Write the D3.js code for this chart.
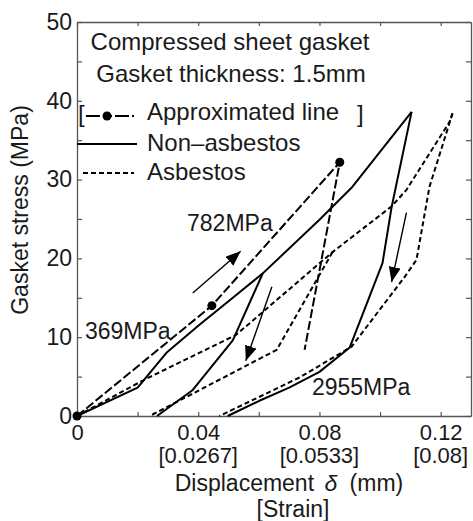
<!DOCTYPE html>
<html>
<head>
<meta charset="utf-8">
<script src="https://cdn.jsdelivr.net/npm/d3@7"></script>
<style>
  body { margin: 0; background: #fff; }
  text { font-family: "Liberation Sans", Arial, sans-serif; fill: #1a1a1a; }
</style>
</head>
<body>
<div id="chart"></div>
<script>
// tick values / labels
var xTicks = [0, 0.02, 0.04, 0.06, 0.08, 0.1, 0.12];
var xTickLabels = ["0", "", "0.04", "", "0.08", "", "0.12"];
var strainLabels = ["", "", "[0.0267]", "", "[0.0533]", "", "[0.08]"];
var yTicks = [0, 5, 10, 15, 20, 25, 30, 35, 40, 45, 50];
var yTickLabels = ["0", "", "10", "", "20", "", "30", "", "40", "", "50"];

// Non-asbestos (solid) : [displacement mm, stress MPa]
var nonAsbLoad = [[0, 0], [0.02, 3.6], [0.0297, 8.1], [0.0405, 11.6], [0.0504, 14.7], [0.0613, 18.1],
  [0.08, 24.9], [0.0909, 29.1], [0.1104, 38.6]];
var nonAsbUnload1 = [[0.0613, 18.1], [0.0514, 9.6], [0.0382, 3.3], [0.0264, 0]];
var nonAsbUnload2 = [[0.1104, 38.6], [0.1038, 26.5], [0.1008, 19.4], [0.09, 8.7], [0.08, 5.6],
  [0.07, 3.6], [0.06, 1.9], [0.0497, 0]];

// Asbestos (dashed)
var asbLoad = [[0, 0], [0.0217, 4.5], [0.0525, 10.3], [0.0843, 20.8], [0.1038, 26.6], [0.1087, 28.7],
  [0.1229, 37.3], [0.1239, 38.4]];
var asbUnload1 = [[0.0843, 20.8], [0.0659, 8.4], [0.0405, 3.3], [0.024, 0]];
var asbUnload2 = [[0.1239, 38.4], [0.1163, 29.1], [0.112, 19.8], [0.108, 17.6], [0.0906, 8.8],
  [0.0735, 4.9], [0.06, 2.4], [0.047, 0]];

// Approximated line
var approxLine = [[0, 0], [0.0445, 14.0], [0.0867, 32.2], [0.0751, 8.4]];
var approxDots = [[0, 0], [0.0445, 14.0], [0.0867, 32.2]];

// arrows [from, to]
var arrows = [
  [[0.0382, 15.6], [0.054, 20.9]],
  [[0.0643, 16.4], [0.0557, 7.0]],
  [[0.1087, 25.8], [0.1038, 17.0]]
];

// slope labels [text, x, y]
var slopeLabels = [["782MPa", 0.0363, 23.5], ["369MPa", 0.0026, 9.8], ["2955MPa", 0.0775, 2.65]];

var svgWidth = 473;
var svgHeight = 521;
var margin = { top: 22, right: 2, bottom: 105, left: 77 };
var width = svgWidth - margin.left - margin.right;
var height = svgHeight - margin.top - margin.bottom;

var svg = d3.select("#chart")
  .append("svg")
  .attr("width", svgWidth)
  .attr("height", svgHeight);

var chartGroup = svg.append("g")
  .attr("transform", `translate(${margin.left}, ${margin.top})`);

var xScale = d3.scaleLinear().domain([0, 0.13]).range([0, width]);
var yScale = d3.scaleLinear().domain([0, 50]).range([height, 0]);

// axes, ticks pointing in
var bottomAxis = d3.axisBottom(xScale).tickValues(xTicks).tickSizeInner(-4).tickSizeOuter(0)
  .tickPadding(8).tickFormat((d, i) => xTickLabels[i]);
var topAxis = d3.axisTop(xScale).tickValues(xTicks).tickSizeInner(-4).tickSizeOuter(0).tickFormat("");
var leftAxis = d3.axisLeft(yScale).tickValues(yTicks).tickSizeInner(-5).tickSizeOuter(0)
  .tickPadding(5).tickFormat((d, i) => yTickLabels[i]);
var rightAxis = d3.axisRight(yScale).tickValues(yTicks).tickSizeInner(-5).tickSizeOuter(0).tickFormat("");

var gx = chartGroup.append("g").attr("transform", `translate(0, ${height})`).call(bottomAxis);
chartGroup.append("g").call(topAxis);
var gy = chartGroup.append("g").call(leftAxis);
chartGroup.append("g").attr("transform", `translate(${width}, 0)`).call(rightAxis);

chartGroup.selectAll(".domain").attr("stroke", "#555").attr("stroke-width", 1.3);
chartGroup.selectAll(".tick line").attr("stroke", "#555").attr("stroke-width", 1.2);
chartGroup.selectAll(".tick text").attr("font-size", 23).attr("fill", "#1a1a1a")
  .attr("font-family", "Liberation Sans, Arial, sans-serif");
gx.selectAll(".tick text").attr("font-size", 22).attr("dy", "0.72em");

// strain labels under the x ticks
chartGroup.selectAll(".strain")
  .data(xTicks)
  .enter()
  .append("text")
  .attr("x", d => xScale(d))
  .attr("y", height + 47)
  .attr("text-anchor", "middle")
  .attr("font-size", 22)
  .text((d, i) => strainLabels[i]);

var line = d3.line().x(d => xScale(d[0])).y(d => yScale(d[1]));

function drawCurve(data, dash) {
  chartGroup.append("path")
    .datum(data)
    .attr("d", line)
    .attr("fill", "none")
    .attr("stroke", "#000")
    .attr("stroke-width", 2)
    .attr("stroke-linejoin", "round")
    .attr("stroke-dasharray", dash);
}

[asbLoad, asbUnload1, asbUnload2].forEach(c => drawCurve(c, "5,3"));
drawCurve(approxLine, "9,3");
[nonAsbLoad, nonAsbUnload1, nonAsbUnload2].forEach(c => drawCurve(c, null));

chartGroup.selectAll(".adot")
  .data(approxDots)
  .enter()
  .append("circle")
  .attr("cx", d => xScale(d[0]))
  .attr("cy", d => yScale(d[1]))
  .attr("r", 4.5)
  .attr("fill", "#000");

// arrows
svg.append("defs").append("marker")
  .attr("id", "head")
  .attr("markerUnits", "userSpaceOnUse")
  .attr("markerWidth", 15)
  .attr("markerHeight", 12)
  .attr("refX", 15)
  .attr("refY", 6)
  .attr("orient", "auto")
  .append("path")
  .attr("d", "M0,0 L15,6 L0,12 Z")
  .attr("fill", "#000");

chartGroup.selectAll(".arrow")
  .data(arrows)
  .enter()
  .append("line")
  .attr("x1", d => xScale(d[0][0]))
  .attr("y1", d => yScale(d[0][1]))
  .attr("x2", d => xScale(d[1][0]))
  .attr("y2", d => yScale(d[1][1]))
  .attr("stroke", "#000")
  .attr("stroke-width", 1.4)
  .attr("marker-end", "url(#head)");

chartGroup.selectAll(".slope")
  .data(slopeLabels)
  .enter()
  .append("text")
  .attr("x", d => xScale(d[1]))
  .attr("y", d => yScale(d[2]))
  .attr("font-size", 23)
  .text(d => d[0]);

// legend / title block
svg.append("text").attr("x", 230).attr("y", 50).attr("text-anchor", "middle")
  .attr("font-size", 24).text("Compressed sheet gasket");
svg.append("text").attr("x", 231).attr("y", 82).attr("text-anchor", "middle")
  .attr("font-size", 24).text("Gasket thickness: 1.5mm");

svg.append("text").attr("x", 78).attr("y", 122).attr("font-size", 24).text("[");
svg.append("text").attr("x", 357).attr("y", 122).attr("font-size", 24).text("]");
svg.append("line").attr("x1", 86).attr("x2", 134).attr("y1", 116).attr("y2", 116)
  .attr("stroke", "#000").attr("stroke-width", 2).attr("stroke-dasharray", "14,3,9,3");
svg.append("circle").attr("cx", 107).attr("cy", 116).attr("r", 4.5).attr("fill", "#000");
svg.append("text").attr("x", 147).attr("y", 120).attr("font-size", 24).text("Approximated line");

svg.append("line").attr("x1", 77).attr("x2", 137).attr("y1", 144).attr("y2", 144)
  .attr("stroke", "#000").attr("stroke-width", 2);
svg.append("text").attr("x", 147).attr("y", 151).attr("font-size", 24).text("Non\u2013asbestos");

svg.append("line").attr("x1", 83).attr("x2", 134).attr("y1", 173).attr("y2", 173)
  .attr("stroke", "#000").attr("stroke-width", 2).attr("stroke-dasharray", "5,3");
svg.append("text").attr("x", 147).attr("y", 180).attr("font-size", 24).text("Asbestos");

// axis titles
var xTitle = svg.append("text").attr("x", 289).attr("y", 491).attr("text-anchor", "middle")
  .attr("font-size", 23);
xTitle.append("tspan").text("Displacement ");
xTitle.append("tspan").attr("font-style", "italic").attr("dx", 4).text("\u03b4");
xTitle.append("tspan").attr("dx", 6).text(" (mm)");
svg.append("text").attr("x", 293).attr("y", 517).attr("text-anchor", "middle")
  .attr("font-size", 23).text("[Strain]");

svg.append("text")
  .attr("transform", "rotate(-90)")
  .attr("x", -210)
  .attr("y", 28)
  .attr("text-anchor", "middle")
  .attr("font-size", 23)
  .text("Gasket stress (MPa)");
</script>
</body>
</html>
